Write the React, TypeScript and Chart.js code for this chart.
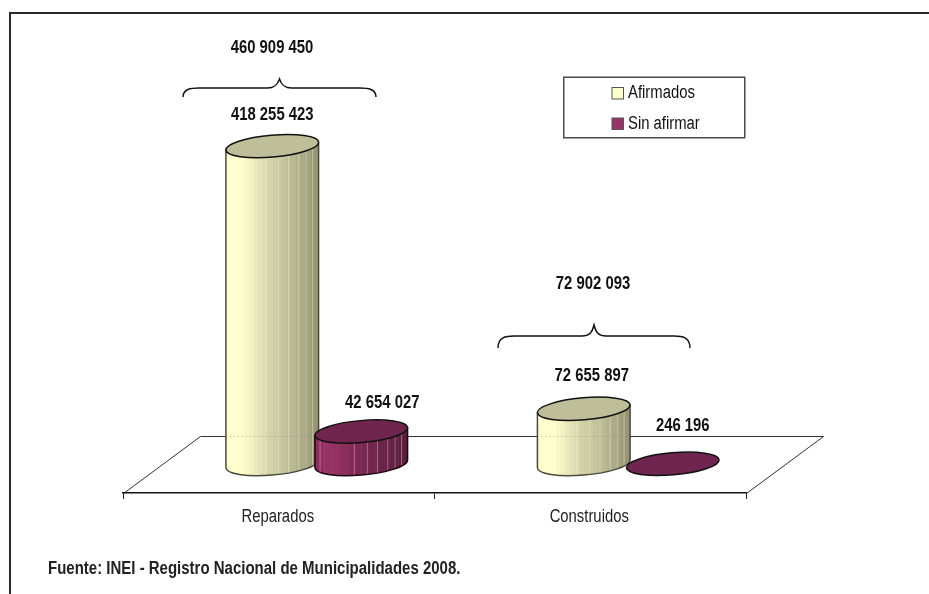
import React, { useEffect, useRef } from "react";
import { Chart, registerables } from "chart.js";

Chart.register(...registerables);

const categories = ["Reparados", "Construidos"];
const afirmados = [418255423, 72655897];
const sinAfirmar = [42654027, 246196];
const totals = [460909450, 72902093];
const seriesNames = ["Afirmados", "Sin afirmar"];
const sourceNote = "Fuente: INEI - Registro Nacional de Municipalidades 2008.";

const FONT = '"Liberation Sans", Arial, sans-serif';
const NARROW = 0.825;
const DEPTH_X = 38;
const DEPTH_Y = 29;
const TILT = (-5 * Math.PI) / 180;
const RY = 11;

const labelOffsets = [
  [[0, -31], [21, -29]],
  [[8, -33], [10, -38]],
];
const braceLayout = [
  { cx: 279.5, half: 96.5, peak: 79, flat: 88, end: 97, textY: 48, textX: 272 },
  { cx: 594, half: 96, peak: 325, flat: 336, end: 348, textY: 284, textX: 593 },
];

const fmt = (n: number) => String(n).replace(/\B(?=(\d{3})+$)/g, " ");

function narrowText(
  ctx: CanvasRenderingContext2D,
  text: string,
  x: number,
  y: number,
  font: string,
  color: string,
  align: CanvasTextAlign,
  squeeze = NARROW
) {
  ctx.save();
  ctx.font = font;
  ctx.fillStyle = color;
  ctx.textAlign = align;
  ctx.textBaseline = "middle";
  ctx.translate(x, y);
  ctx.scale(squeeze, 1);
  ctx.fillText(text, 0, 0);
  ctx.restore();
}

type Stop = [number, number[]];
const yellowStops: Stop[] = [
  [0, [255, 255, 204]],
  [0.18, [255, 255, 204]],
  [0.45, [214, 214, 172]],
  [0.75, [182, 182, 146]],
  [1, [146, 146, 112]],
];
const purpleStops: Stop[] = [
  [0, [140, 44, 92]],
  [0.15, [153, 51, 102]],
  [0.5, [122, 40, 82]],
  [1, [88, 30, 60]],
];
const ramps = [
  { stops: yellowStops, top: "#BEBE98", line: "#4a4a3c", glint: "rgba(255,255,230,0.35)" },
  { stops: purpleStops, top: "#70254F", line: "#1a0510", glint: "rgba(235,170,205,0.5)" },
];
const glints = [0.05, 0.42, 0.56, 0.67, 0.78, 0.86, 0.93];

function rampColor(stops: Stop[], t: number) {
  for (let i = 1; i < stops.length; i++) {
    if (t <= stops[i][0]) {
      const [a, ca] = stops[i - 1];
      const [b, cb] = stops[i];
      const k = (t - a) / (b - a);
      return `rgb(${ca.map((c, j) => Math.round(c + (cb[j] - c) * k)).join(",")})`;
    }
  }
  return `rgb(${stops[stops.length - 1][1].join(",")})`;
}

function drawCylinder(
  ctx: CanvasRenderingContext2D,
  cx: number,
  topY: number,
  baseY: number,
  rx: number,
  ds: number,
  floorBackY: number
) {
  const ramp = ramps[ds];
  const t0 = Math.atan((RY * Math.sin(-TILT)) / (rx * Math.cos(TILT)));
  const hw = Math.sqrt(rx * rx * Math.cos(TILT) ** 2 + RY * RY * Math.sin(TILT) ** 2);
  const dy = ((rx * rx - RY * RY) * Math.sin(-TILT) * Math.cos(TILT)) / hw;
  const h = baseY - topY;
  ctx.save();
  if (h > 3) {
    const side = new Path2D();
    side.moveTo(cx + hw, topY - dy);
    side.lineTo(cx + hw, baseY - dy);
    side.ellipse(cx, baseY, rx, RY, TILT, t0, t0 + Math.PI, false);
    side.lineTo(cx - hw, topY + dy);
    side.closePath();
    ctx.save();
    ctx.clip(side);
    const strips = 20;
    for (let i = 0; i < strips; i++) {
      const w = (2 * hw) / strips;
      ctx.fillStyle = rampColor(ramp.stops, (i + 0.5) / strips);
      ctx.fillRect(cx - hw + i * w, topY - RY - 5, w + 0.5, h + 2 * RY + 10);
    }
    ctx.fillStyle = ramp.glint;
    for (const g of glints) ctx.fillRect(cx - hw + g * 2 * hw, topY - RY - 5, 1, h + 2 * RY + 10);
    // Faint dotted trace of the floor's back edge showing through the yellow column
    if (ds === 0 && topY < floorBackY) {
      ctx.strokeStyle = "rgba(110,110,85,0.45)";
      ctx.setLineDash([1, 3]);
      ctx.lineWidth = 1;
      ctx.beginPath();
      ctx.moveTo(cx - hw, floorBackY + 0.5);
      ctx.lineTo(cx + hw, floorBackY + 0.5);
      ctx.stroke();
      ctx.setLineDash([]);
    }
    ctx.restore();
    ctx.strokeStyle = ramp.line;
    ctx.lineWidth = 1.5;
    ctx.stroke(side);
  }
  ctx.beginPath();
  ctx.ellipse(cx, topY, rx, RY, TILT, 0, Math.PI * 2);
  ctx.fillStyle = ramp.top;
  ctx.fill();
  ctx.strokeStyle = "#111";
  ctx.lineWidth = 1.5;
  ctx.stroke();
  ctx.restore();
}

function drawBrace(ctx: CanvasRenderingContext2D, b: (typeof braceLayout)[number]) {
  const { cx, half, peak, flat, end } = b;
  ctx.beginPath();
  ctx.moveTo(cx - half, end);
  ctx.bezierCurveTo(cx - half, flat + 1, cx - half + 8, flat, cx - half + 16, flat);
  ctx.lineTo(cx - 12, flat);
  ctx.bezierCurveTo(cx - 5, flat, cx - 2, flat - 3, cx, peak);
  ctx.bezierCurveTo(cx + 2, flat - 3, cx + 5, flat, cx + 12, flat);
  ctx.lineTo(cx + half - 16, flat);
  ctx.bezierCurveTo(cx + half - 8, flat, cx + half, flat + 1, cx + half, end);
  ctx.strokeStyle = "#111";
  ctx.lineWidth = 1.5;
  ctx.stroke();
}

const cylinderPlugin = {
  id: "cylinders",
  beforeDraw(chart: any) {
    const { ctx, chartArea: a } = chart;
    ctx.save();
    ctx.fillStyle = "#fff";
    ctx.fillRect(0, 0, chart.width, chart.height);
    // Frame
    ctx.strokeStyle = "#2a2a2a";
    ctx.lineWidth = 2;
    ctx.beginPath();
    ctx.moveTo(10, 594);
    ctx.lineTo(10, 13);
    ctx.lineTo(929, 13);
    ctx.stroke();
    // Floor
    ctx.strokeStyle = "#333";
    ctx.lineWidth = 1;
    ctx.beginPath();
    ctx.moveTo(a.left + 0.5, a.bottom + 0.5);
    ctx.lineTo(a.left + 77.5, a.bottom - 56.5);
    ctx.lineTo(a.right + 77.5, a.bottom - 56.5);
    ctx.lineTo(a.right + 0.5, a.bottom + 0.5);
    ctx.stroke();
    ctx.restore();
  },
  beforeDatasetDraw() {
    return false;
  },
  afterDatasetsDraw(chart: any) {
    const { ctx, chartArea: a } = chart;
    ctx.save();
    chart.data.datasets.forEach((_: any, ds: number) => {
      chart.getDatasetMeta(ds).data.forEach((el: any) => {
        drawCylinder(ctx, el.x + DEPTH_X, el.y - DEPTH_Y, el.base - DEPTH_Y, el.width / 2, ds, a.bottom - 57);
      });
    });
    const boldFont = `bold 18px ${FONT}`;
    const plainFont = `18px ${FONT}`;
    // Value labels
    chart.data.datasets.forEach((d: any, ds: number) => {
      chart.getDatasetMeta(ds).data.forEach((el: any, i: number) => {
        const [ox, oy] = labelOffsets[i][ds];
        narrowText(ctx, fmt(d.data[i]), el.x + DEPTH_X + ox, el.y - DEPTH_Y + oy, boldFont, "#111", "center");
      });
    });
    // Totals with braces
    totals.forEach((t, i) => {
      const b = braceLayout[i];
      drawBrace(ctx, b);
      narrowText(ctx, fmt(t), b.textX, b.textY, boldFont, "#111", "center");
    });
    // Category labels from the x scale
    const xs = chart.scales.x;
    xs.ticks.forEach((tick: any, i: number) => {
      narrowText(ctx, categories[tick.value ?? i], xs.getPixelForTick(i) - 1, 517, plainFont, "#222", "center");
    });
    // Legend
    ctx.strokeStyle = "#4a4a4a";
    ctx.lineWidth = 1.5;
    ctx.strokeRect(563.75, 77.25, 181, 60.5);
    chart.data.datasets.forEach((d: any, ds: number) => {
      const y = 87.5 + ds * 30.5;
      ctx.fillStyle = d.backgroundColor;
      ctx.fillRect(612, y, 11.5, 11.5);
      ctx.strokeStyle = "#555";
      ctx.lineWidth = 1;
      ctx.strokeRect(612, y, 11.5, 11.5);
      narrowText(ctx, d.label, 628, y + 6, plainFont, "#111", "left");
    });
    // Source
    narrowText(ctx, sourceNote, 48, 569, `bold 18px ${FONT}`, "#222", "left", 0.833);
    ctx.restore();
  },
};

export default function App() {
  const ref = useRef<HTMLCanvasElement>(null);
  useEffect(() => {
    const chart = new Chart(ref.current as HTMLCanvasElement, {
      type: "bar",
      data: {
        labels: categories,
        datasets: [
          { label: seriesNames[0], data: afirmados, backgroundColor: "#FFFFCC" },
          { label: seriesNames[1], data: sinAfirmar, backgroundColor: "#993366" },
        ],
      },
      options: {
        responsive: false,
        animation: false,
        devicePixelRatio: 1,
        layout: { padding: { left: 123, right: 183, top: 37, bottom: 0 } },
        datasets: { bar: { categoryPercentage: 0.5714, barPercentage: 1.045 } },
        plugins: { legend: { display: false }, title: { display: false }, tooltip: { enabled: false } },
        scales: {
          x: {
            afterFit(scale: any) {
              scale.height = 101;
            },
            grid: { display: true, drawOnChartArea: false, drawTicks: true, tickLength: 6, color: "#222", offset: true },
            border: { display: true, color: "#111", width: 1.5 },
            ticks: { display: false },
          },
          y: { display: false, min: 0, max: 600000000 },
        },
      } as any,
      plugins: [cylinderPlugin as any],
    });
    return () => chart.destroy();
  }, []);
  return (
    <canvas
      ref={ref}
      width={929}
      height={594}
      style={{ position: "absolute", left: 0, top: 0, width: 929, height: 594, display: "block" }}
    />
  );
}
